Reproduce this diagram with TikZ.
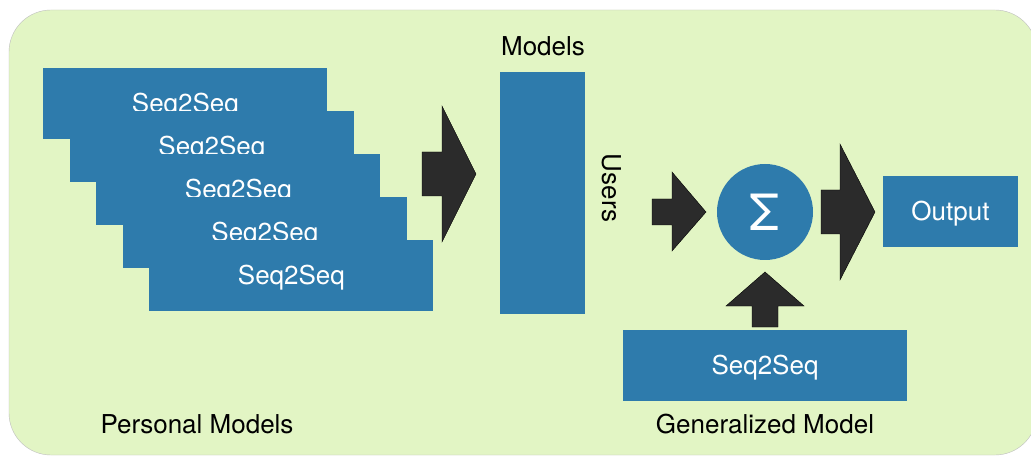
\documentclass[tikz,border=0pt]{standalone}
\usepackage{fontspec}
\setmainfont{TeX Gyre Heros}
\usepackage{tikz}

\definecolor{panelgreen}{RGB}{226,245,196}
\definecolor{boxblue}{RGB}{46,123,172}
\definecolor{arrowgray}{RGB}{43,43,43}

\begin{document}
\begin{tikzpicture}[x=1pt,y=-1pt]
\tikzset{every node/.style={font=\fontsize{26}{30}\selectfont, inner sep=0pt}}
\tikzset{capcentred/.style={text height=18.7pt, text depth=0pt}}
\tikzset{seqbox/.style={fill=boxblue, text=white, capcentred, minimum width=284pt, minimum height=71pt}}
\tikzset{blockarrow/.style={fill=arrowgray}}
\tikzset{caption/.style={text=black}}

\useasboundingbox (0,0) rectangle (1031,457);
\fill[white] (0,0) rectangle (1031,457);
\draw[fill=panelgreen, draw=black!25, rounded corners=42pt] (9,10) rectangle (1037,455);

% personal models, each one partly hidden by the next
\foreach \i in {0,...,4}
\node[seqbox] (p\i) at ({185.4+26.5*\i},{103.5+43*\i}) {Seq2Seq};
\node[caption] (personal) at (197,424) {Personal Models};

\draw[blockarrow] (422,152) -- (442,152) -- (442,106) -- (476,174) -- (442,242) -- (442,196) -- (422,196) -- cycle;

% models stacked by user
\node[fill=boxblue, minimum width=85pt, minimum height=242pt] (models) at (542.5,193) {};
\node[caption] (modelslbl) at (543,46) {Models};
\node[caption, rotate=-90] (users) at (612,188) {Users};

\draw[blockarrow] (652,199) -- (672,199) -- (672,172) -- (706,212) -- (672,251) -- (672,225) -- (652,225) -- cycle;

\node[circle, fill=boxblue, text=white, minimum size=96pt] (sum) at (765,212)
{\fontsize{50}{50}\selectfont Σ};

\draw[blockarrow] (821,190) -- (840,190) -- (840,144) -- (875,212) -- (840,280) -- (840,234) -- (821,234) -- cycle;

\node[fill=boxblue, text=white, capcentred, minimum width=135pt, minimum height=71pt] (out) at (950.5,211.5) {Output};

% generalized model feeding the sum
\node[seqbox] (gen) at (765,365) {Seq2Seq};
\node[caption] (genlbl) at (765,424) {Generalized Model};

\draw[blockarrow] (752,327) -- (752,306) -- (726,306) -- (765,272) -- (804,306) -- (778,306) -- (778,327) -- cycle;
\end{tikzpicture}
\end{document}
